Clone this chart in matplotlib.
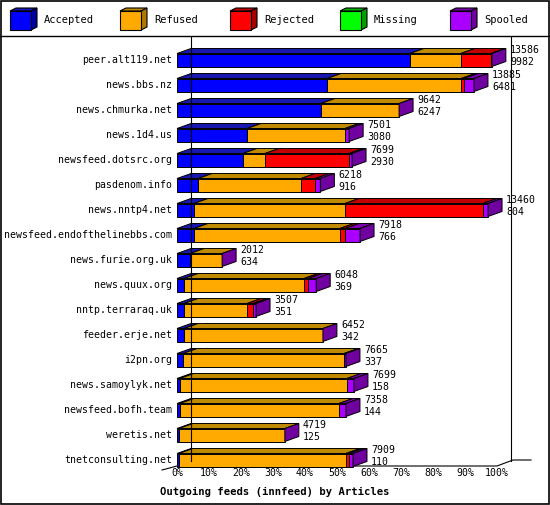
import matplotlib.pyplot as plt
from matplotlib.patches import Polygon, Rectangle

hosts = ['peer.alt119.net', 'news.bbs.nz', 'news.chmurka.net', 'news.1d4.us',
         'newsfeed.dotsrc.org', 'pasdenom.info', 'news.nntp4.net',
         'newsfeed.endofthelinebbs.com', 'news.furie.org.uk', 'news.quux.org',
         'nntp.terraraq.uk', 'feeder.erje.net', 'i2pn.org', 'news.samoylyk.net',
         'newsfeed.bofh.team', 'weretis.net', 'tnetconsulting.net']
offered = [13586, 13885, 9642, 7501, 7699, 6218, 13460, 7918, 2012, 6048,
           3507, 6452, 7665, 7699, 7358, 4719, 7909]
accepted = [9982, 6481, 6247, 3080, 2930, 916, 804, 766, 634, 369,
            351, 342, 337, 158, 144, 125, 110]
# bar segments in percent
pct_accepted = [72.8, 46.9, 45.0, 21.9, 20.6, 6.6, 5.3, 5.3, 4.1, 2.2, 2.2, 2.2, 1.9, 0.9, 0.9, 0.6, 0.6]
pct_refused = [15.9, 41.9, 24.4, 30.6, 6.9, 32.2, 47.2, 45.6, 10.0, 37.5, 19.7, 43.4, 50.3, 52.2, 49.7, 33.1, 52.2]
pct_rejected = [9.4, 0.9, 0, 0, 26.3, 4.4, 43.1, 1.6, 0, 1.3, 1.9, 0, 0, 0, 0, 0, 0.9]
pct_missing = [0] * 17
pct_spooled = [0.3, 3.1, 0, 1.3, 0.9, 1.6, 1.6, 4.7, 0, 2.5, 0.9, 0, 0.6, 2.2, 2.2, 0, 1.3]

series = ['Accepted', 'Refused', 'Rejected', 'Missing', 'Spooled']
front = ['#0000ff', '#ffaa00', '#ff0000', '#00ff00', '#aa00ff']
top = ['#1818b0', '#c08a00', '#c00000', '#00b000', '#7c00b0']
side = ['#0000a0', '#b07800', '#a80000', '#00a000', '#7000a0']
segments = [pct_accepted, pct_refused, pct_rejected, pct_missing, pct_spooled]

W, H = 550, 505
fig = plt.figure(figsize=(W / 100, H / 100), dpi=100)
font = 'DejaVu Sans Mono'
fs = 7.1

# overlay in pixel coordinates for frame and legend
ov = fig.add_axes([0, 0, 1, 1])
ov.set_xlim(0, W)
ov.set_ylim(H, 0)
ov.axis('off')
ov.add_patch(Rectangle((0.5, 0.5), W - 1.5, H - 1.5, fill=False, lw=1.2, ec='black'))
ov.plot([0, W], [36, 36], color='black', lw=1)
for i, name in enumerate(series):
    x0 = 10 + 110 * i
    ov.add_patch(Polygon([(x0, 11), (x0 + 6, 8), (x0 + 27, 8), (x0 + 21, 11)],
                         fc=top[i], ec='black', lw=0.8))
    ov.add_patch(Polygon([(x0 + 21, 11), (x0 + 27, 8), (x0 + 27, 27), (x0 + 21, 30)],
                         fc=side[i], ec='black', lw=0.8))
    ov.add_patch(Rectangle((x0, 11), 21, 19, fc=front[i], ec='black', lw=0.8))
    ov.text(x0 + 34, 20, name, family=font, fontsize=7.5, va='center')
ov.text(275, 492, 'Outgoing feeds (innfeed) by Articles', family=font,
        fontsize=7.6, weight='bold', ha='center', va='center')
# floor lines
ov.plot([162, 177, 497, 513, 531], [470, 466, 466, 460, 460], color='black', lw=0.8)

# data axes: x = percent, y = row index
row0, step = 60, 25
py0, py1 = 37, 466
ax = fig.add_axes([177 / W, 1 - py1 / H, 320 / W, (py1 - py0) / H])
rtop = (py0 - row0) / step
rbot = (py1 - row0) / step
ax.set_xlim(0, 100)
ax.set_ylim(rbot, rtop)
ax.axis('off')
dx = 14 / 3.2
dy = -5 / step
hh = 6.5 / step

ax.plot([dx, dx], [rtop, rbot + dy], color='black', lw=0.8, clip_on=False)
ax.plot([100 + dx, 100 + dx], [rtop, rbot + dy], color='black', lw=0.8, clip_on=False)
for t in range(0, 101, 10):
    ax.text(t, rbot + 0.27, f'{t}%', family=font, fontsize=fs, ha='center', va='center')

for r, host in enumerate(hosts):
    left = 0
    for k in range(5):
        w = segments[k][r]
        if w <= 0:
            continue
        ax.add_patch(Polygon([(left, r - hh), (left + dx, r - hh + dy),
                              (left + w + dx, r - hh + dy), (left + w, r - hh)],
                             fc=top[k], ec='black', lw=0.7, clip_on=False))
        ax.add_patch(Rectangle((left, r - hh), w, 2 * hh, fc=front[k],
                               ec='black', lw=0.7, clip_on=False))
        left += w
    ax.add_patch(Polygon([(left, r - hh), (left + dx, r - hh + dy),
                          (left + dx, r + hh + dy), (left, r + hh)],
                         fc=side[4], ec='black', lw=0.7, clip_on=False))
    ax.text(-1.5, r, host, family=font, fontsize=fs, ha='right', va='center')
    ax.text(left + dx + 1.3, r - 0.40, str(offered[r]), family=font, fontsize=fs,
            va='center')
    ax.text(left + dx + 1.3, r + 0.08, str(accepted[r]), family=font, fontsize=fs,
            va='center')

fig.savefig('out.png', dpi=100)
